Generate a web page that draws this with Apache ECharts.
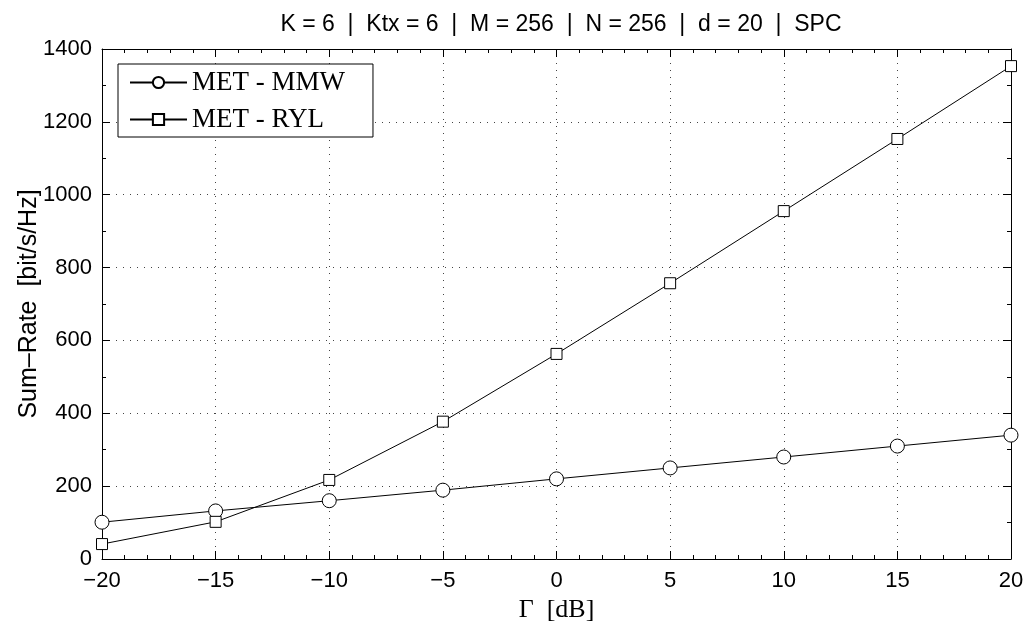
<!DOCTYPE html>
<html>
<head>
<meta charset="utf-8">
<script src="https://cdn.jsdelivr.net/npm/echarts@6/dist/echarts.min.js"></script>
<style>
  html, body { margin: 0; padding: 0; background: #fff; }
  #chart { width: 1027px; height: 622px; }
</style>
</head>
<body>
<div id="chart"></div>
<script>
// Γ [dB]
var gammaDb = [-20, -15, -10, -5, 0, 5, 10, 15, 20];
// sum-rate values
var metMmw = [101, 132, 160, 189, 220, 250, 280, 310, 340];
var metRyl = [41, 102, 217, 377, 563, 757, 955, 1153, 1353];

var seriesNames = ['MET - MMW', 'MET - RYL'];
var titleText = 'K = 6  |  Ktx = 6  |  M = 256  |  N = 256  |  d = 20  |  SPC';

function pairs(xs, ys) {
    return xs.map(function (x, i) { return [x, ys[i]]; });
}

var sans = 'Liberation Sans, Arial, sans-serif';
var serif = 'Liberation Serif, Times New Roman, serif';

// matlab style box: ticks pointing inward on all four sides
function frameAxis(extra, minorSplit) {
    var a = {
        axisLine: { show: true, onZero: false, lineStyle: { color: '#000', width: 1 } },
        axisTick: { show: true, inside: true, length: 8, lineStyle: { color: '#000', width: 1 } },
        minorTick: { show: true, splitNumber: minorSplit, length: 4, lineStyle: { color: '#000', width: 1 } }
    };
    for (var k in extra) a[k] = extra[k];
    return a;
}

var myChart = echarts.init(document.getElementById('chart'));

var option = {
    animation: false,
    backgroundColor: '#fff',
    title: {
        text: titleText,
        left: 556,
        textAlign: 'center',
        top: 8,
        textStyle: { fontFamily: sans, fontSize: 23, fontWeight: 'normal', color: '#000' }
    },
    legend: {
        orient: 'vertical',
        left: 118,
        top: 64,
        padding: [5, 28, 4, 11],
        itemGap: 10,
        itemWidth: 57,
        itemHeight: 14,
        backgroundColor: '#fff',
        borderColor: '#000',
        borderWidth: 1,
        borderRadius: 0,
        textStyle: { fontFamily: serif, fontSize: 27, color: '#000' },
        data: seriesNames
    },
    grid: { left: 102, right: 16, top: 49, bottom: 63, containLabel: false, outerBoundsMode: 'none' },
    xAxis: [
        frameAxis({
            type: 'value', min: -20, max: 20, interval: 5,
            name: 'Γ  [dB]', nameLocation: 'middle', nameGap: 35,
            nameTextStyle: { fontFamily: serif, fontSize: 26, color: '#000' },
            axisLabel: { fontFamily: sans, fontSize: 22, color: '#000', margin: 11,
                formatter: function (v) { return String(v).replace('-', '\u2212'); } },
            splitLine: { show: true, lineStyle: { color: '#444', width: 1, type: [1, 6] } }
        }, 5),
        frameAxis({
            type: 'value', min: -20, max: 20, interval: 5, position: 'top',
            axisLabel: { show: false },
            splitLine: { show: false }
        }, 5)
    ],
    yAxis: [
        frameAxis({
            type: 'value', min: 0, max: 1400, interval: 200,
            name: 'Sum\u2013Rate  [bit/s/Hz]', nameLocation: 'middle', nameGap: 60,
            nameMoveOverlap: false,
            nameTextStyle: { fontFamily: sans, fontSize: 25, color: '#000' },
            axisLabel: { fontFamily: sans, fontSize: 22, color: '#000', margin: 10,
                formatter: function (v) { return String(v); } },
            splitLine: { show: true, lineStyle: { color: '#444', width: 1, type: [1, 6] } }
        }, 2),
        frameAxis({
            type: 'value', min: 0, max: 1400, interval: 200, position: 'right',
            axisLabel: { show: false },
            splitLine: { show: false }
        }, 2)
    ],
    series: [
        {
            name: seriesNames[0],
            type: 'line',
            data: pairs(gammaDb, metMmw),
            symbol: 'circle',
            symbolSize: 14,
            showAllSymbol: true,
            lineStyle: { color: '#000', width: 1 },
            itemStyle: { color: '#fff', borderColor: '#000', borderWidth: 1 }
        },
        {
            name: seriesNames[1],
            type: 'line',
            data: pairs(gammaDb, metRyl),
            symbol: 'rect',
            symbolSize: 11,
            showAllSymbol: true,
            lineStyle: { color: '#000', width: 1 },
            itemStyle: { color: '#fff', borderColor: '#000', borderWidth: 1 }
        }
    ]
};

myChart.setOption(option);
</script>
</body>
</html>
